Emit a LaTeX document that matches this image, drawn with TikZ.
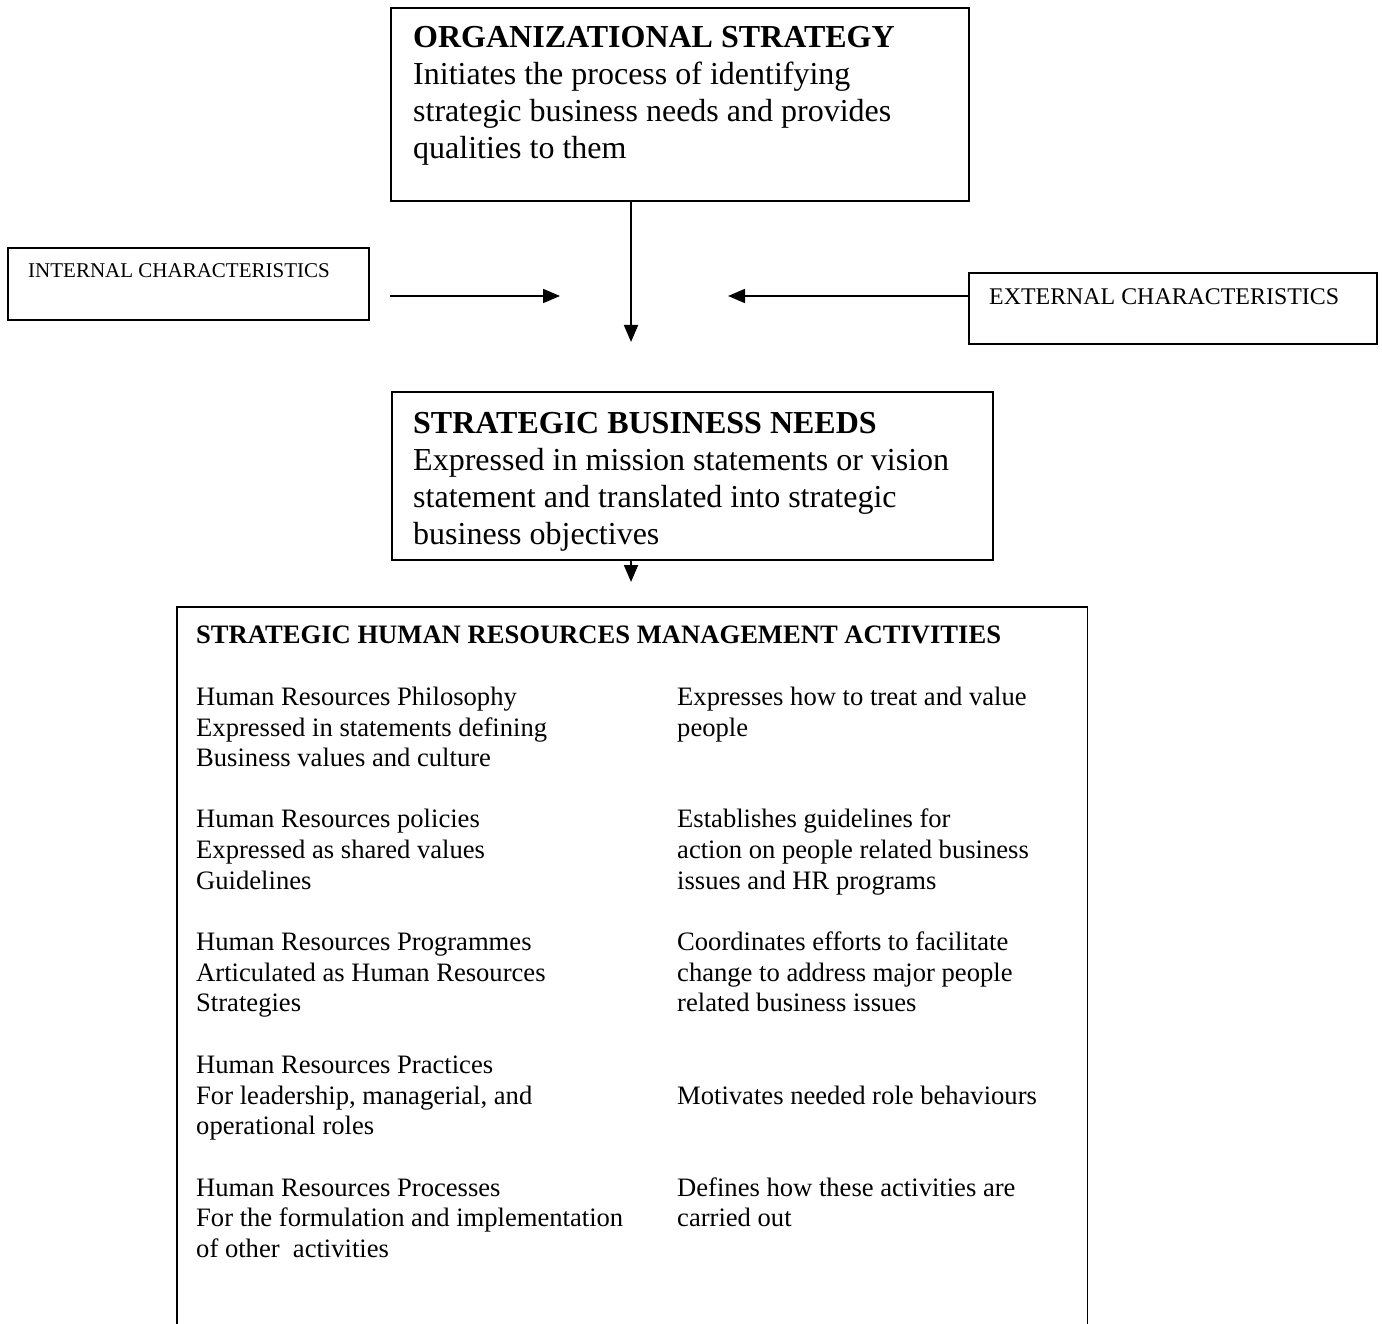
\documentclass[tikz,border=0pt]{standalone}
\usepackage{fontspec}
\setmainfont{Liberation Serif}
\usetikzlibrary{arrows.meta}
\begin{document}
\begin{tikzpicture}[x=1pt,y=-1pt,
  box/.style={draw, line width=1.8pt, inner sep=0pt, anchor=north west},
  arr/.style={line width=1.8pt, -{Triangle[length=17pt,width=14pt]}},
  bigb/.style={font=\fontsize{32}{37}\selectfont\bfseries, anchor=base west, inner sep=0pt},
  bigr/.style={font=\fontsize{32}{37}\selectfont, anchor=base west, inner sep=0pt},
  smallt/.style={font=\fontsize{21}{25}\selectfont, anchor=base west, inner sep=0pt},
  smallext/.style={font=\fontsize{23.9}{28}\selectfont, anchor=base west, inner sep=0pt},
  titb/.style={font=\fontsize{26.6}{30.7}\selectfont\bfseries, anchor=base west, inner sep=0pt},
  body/.style={font=\fontsize{26.6}{30.7}\selectfont, anchor=base west, inner sep=0pt}]
\useasboundingbox (0,0) rectangle (1382,1324);

% boxes
\node[box, minimum width=578pt, minimum height=193pt] (org) at (390,7) {};
\node[box, minimum width=361pt, minimum height=72pt] (int) at (7,247) {};
\node[box, minimum width=408pt, minimum height=71pt] (ext) at (968,272) {};
\node[box, minimum width=601pt, minimum height=168pt] (sbn) at (391,391) {};
\node[anchor=north west, inner sep=0pt, minimum width=910pt, minimum height=717pt] (shrm) at (177,607) {};
\draw[line width=1.8pt] (shrm.south west) -- (shrm.north west) -- (shrm.north east) -- (shrm.south east);

% texts in top boxes
\node[bigb] (orgt) at (413,48) {ORGANIZATIONAL STRATEGY};
\node[bigr] (org1) at (413,85) {Initiates the process of identifying};
\node[bigr] (org2) at (413,122) {strategic business needs and provides};
\node[bigr] (org3) at (413,159) {qualities to them};

\node[smallt] (intt) at (28,278) {INTERNAL CHARACTERISTICS};
\node[smallext] (extt) at (989,305) {EXTERNAL CHARACTERISTICS};

\node[bigb] (sbnt) at (413,433) {STRATEGIC BUSINESS NEEDS};
\node[bigr] (sbn1) at (413,470) {Expressed in mission statements or vision};
\node[bigr] (sbn2) at (413,507) {statement and translated into strategic};
\node[bigr] (sbn3) at (413,544) {business objectives};

% connectors
\coordinate (mid) at (631,342);
\coordinate (inA) at (390,296);
\coordinate (inB) at (560,296);
\coordinate (exB) at (728,296);
\coordinate (low) at (631,582);
\draw[arr] (org.south -| mid) -- (mid);
\draw[arr] (inA) -- (inB);
\draw[arr] (ext.west |- exB) -- (exB);
\draw[arr] (sbn.south -| low) -- (low);

% big box content
\node[titb] (shrmt) at (196,643) {STRATEGIC HUMAN RESOURCES MANAGEMENT ACTIVITIES};

\node[body] (a1) at (196,705) {Human Resources Philosophy};
\node[body] (a2) at (196,736) {Expressed in statements defining};
\node[body] (a3) at (196,766) {Business values and culture};
\node[body] (ar1) at (677,705) {Expresses how to treat and value};
\node[body] (ar2) at (677,736) {people};

\node[body] (b1) at (196,827) {Human Resources policies};
\node[body] (b2) at (196,858) {Expressed as shared values};
\node[body] (b3) at (196,889) {Guidelines};
\node[body] (br1) at (677,827) {Establishes guidelines for};
\node[body] (br2) at (677,858) {action on people related business};
\node[body] (br3) at (677,889) {issues and HR programs};

\node[body] (c1) at (196,950) {Human Resources Programmes};
\node[body] (c2) at (196,981) {Articulated as Human Resources};
\node[body] (c3) at (196,1011) {Strategies};
\node[body] (cr1) at (677,950) {Coordinates efforts to facilitate};
\node[body] (cr2) at (677,981) {change to address major people};
\node[body] (cr3) at (677,1011) {related business issues};

\node[body] (d1) at (196,1073) {Human Resources Practices};
\node[body] (d2) at (196,1104) {For leadership, managerial, and};
\node[body] (d3) at (196,1134) {operational roles};
\node[body] (dr1) at (677,1104) {Motivates needed role behaviours};

\node[body] (e1) at (196,1196) {Human Resources Processes};
\node[body] (e2) at (196,1226) {For the formulation and implementation};
\node[body] (e3) at (196,1257) {of other\ \ activities};
\node[body] (er1) at (677,1196) {Defines how these activities are};
\node[body] (er2) at (677,1226) {carried out};
\end{tikzpicture}
\end{document}
